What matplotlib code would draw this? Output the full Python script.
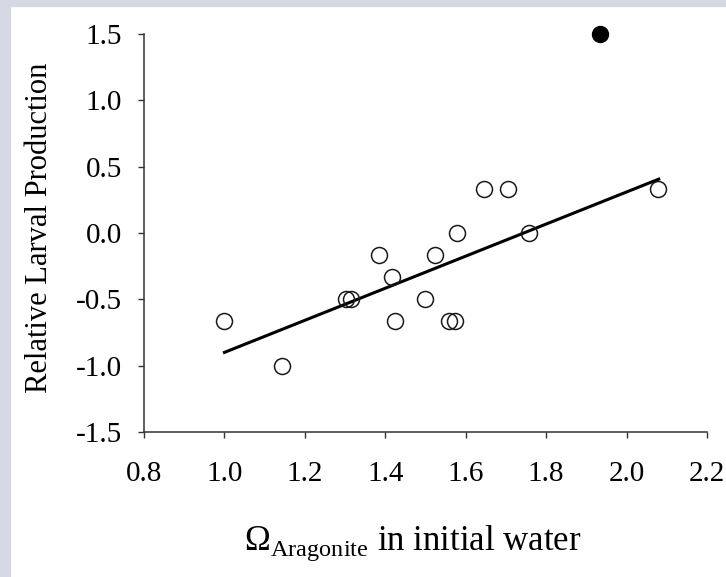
import matplotlib
matplotlib.use("Agg")
import matplotlib.pyplot as plt
from matplotlib.patches import Rectangle

# --- DATA ---
open_x = [1.00, 1.143, 1.302, 1.314, 1.385, 1.417, 1.424, 1.500, 1.524,
          1.559, 1.574, 1.579, 1.646, 1.705, 1.758, 2.079]
open_y = [-0.667, -1.0, -0.5, -0.5, -0.167, -0.333, -0.667, -0.5, -0.167,
          -0.667, -0.667, 0.0, 0.333, 0.333, 0.0, 0.333]
filled_x = [1.934]
filled_y = [1.5]
fit_x = [1.00, 2.08]
fit_y = [-0.90, 0.406]

x_ticks = [0.8, 1.0, 1.2, 1.4, 1.6, 1.8, 2.0, 2.2]
y_ticks = [-1.5, -1.0, -0.5, 0.0, 0.5, 1.0, 1.5]

plt.rcParams["font.family"] = ["Liberation Serif", "DejaVu Serif"]
plt.rcParams["mathtext.fontset"] = "custom"
plt.rcParams["mathtext.rm"] = "Liberation Serif"

W, H = 726, 577
fig = plt.figure(figsize=(W / 100, H / 100), dpi=100)
fig.patch.set_facecolor("white")

# light frame along top and left edge
border = "#d4d9e3"
fig.patches.append(Rectangle((0, 1 - 6 / H), 1, 6 / H, transform=fig.transFigure,
                             color=border, zorder=0))
fig.patches.append(Rectangle((0, 0), 10 / W, 1, transform=fig.transFigure,
                             color=border, zorder=0))

ax = fig.add_axes([144 / W, 1 - 432 / H, (707 - 144) / W, (432 - 34) / H])
ax.set_facecolor("none")

ax.plot(fit_x, fit_y, color="black", linewidth=2.2, zorder=2)
ax.plot(open_x, open_y, linestyle="none", marker="o", markersize=11.5,
        markerfacecolor="none", markeredgecolor="#1a1a1a",
        markeredgewidth=1.1, zorder=3, clip_on=False)
ax.plot(filled_x, filled_y, linestyle="none", marker="o", markersize=11.5,
        markerfacecolor="black", markeredgecolor="black", zorder=3,
        clip_on=False)

ax.set_xlim(0.8, 2.2)
ax.set_ylim(-1.5, 1.5)
ax.set_xticks(x_ticks)
ax.set_yticks(y_ticks)
ax.set_xticklabels([f"{v:.1f}" for v in x_ticks])
ax.set_yticklabels([f"{v:.1f}" for v in y_ticks])

for s in ["top", "right"]:
    ax.spines[s].set_visible(False)
for s in ["left", "bottom"]:
    ax.spines[s].set_linewidth(1.1)
    ax.spines[s].set_color("#333333")

ax.tick_params(axis="both", direction="out", length=4.0, width=1.0,
               color="#333333", labelsize=21)
ax.tick_params(axis="y", pad=12)
ax.tick_params(axis="x", pad=17)

fig.text(40 / W, 1 - 228 / H, "Relative Larval Production", rotation=90,
         ha="center", va="center", fontsize=22)
fig.text(413 / W, 1 - 550 / H, r"$\Omega_{\mathrm{Aragonite}}$ in initial water",
         ha="center", va="baseline", fontsize=25)

fig.savefig("out.png", dpi=100)
